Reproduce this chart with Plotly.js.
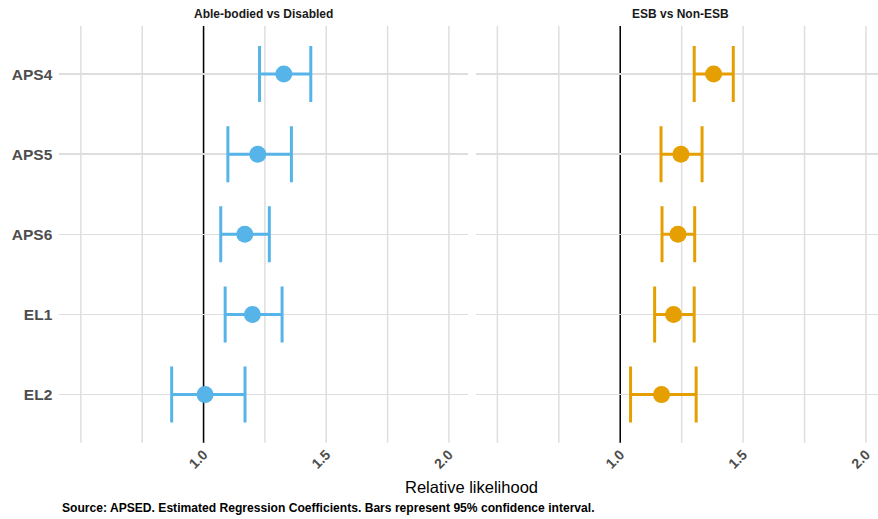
<!DOCTYPE html>
<html>
<head>
<meta charset="utf-8">
<script src="https://cdn.plot.ly/plotly-3.0.1.min.js"></script>
<style>
  html, body { margin: 0; padding: 0; background: #fff; }
  #chart { width: 878px; height: 519px; }
</style>
</head>
<body>
<div id="chart"></div>
<script>
// Forest plot, two facets: relative likelihood with 95% CI.
const categories = ['APS4', 'APS5', 'APS6', 'EL1', 'EL2'];

const disabledEst = [1.327, 1.221, 1.168, 1.199, 1.006];
const disabledLow = [1.228, 1.099, 1.070, 1.088, 0.870];
const disabledHigh = [1.437, 1.358, 1.268, 1.320, 1.169];

const esbEst = [1.380, 1.247, 1.235, 1.217, 1.168];
const esbLow = [1.301, 1.166, 1.170, 1.140, 1.042];
const esbHigh = [1.460, 1.333, 1.303, 1.301, 1.309];

const facetTitles = ['Able-bodied vs Disabled', 'ESB vs Non-ESB'];
const tickVals = [0.5, 0.75, 1.0, 1.25, 1.5, 1.75, 2.0];
const tickText = ['', '', '1.0', '', '1.5', '', '2.0'];
const refValue = 1.0;

const BLUE = '#56B4E9';
const ORANGE = '#E69F00';
const GRID = '#dedede';
const FONT = 'Liberation Sans, Arial, sans-serif';
const W = 878, H = 519;

function ciTrace(est, lo, hi, color, xa, ya) {
  return {
    type: 'scatter',
    mode: 'markers',
    x: est,
    y: categories,
    xaxis: xa,
    yaxis: ya,
    marker: { color: color, size: 17, line: { width: 0 } },
    error_x: {
      type: 'data',
      symmetric: false,
      array: hi.map((h, i) => h - est[i]),
      arrayminus: lo.map((l, i) => est[i] - l),
      color: color,
      thickness: 3,
      width: 28
    },
    hoverinfo: 'x+y',
    showlegend: false
  };
}

function xAxis(domain, range) {
  return {
    domain: domain,
    range: range,
    tickvals: tickVals,
    ticktext: tickText,
    tickangle: -45,
    ticks: '',
    showgrid: false, // vertical grid drawn as shapes so the reference line sits on top
    zeroline: false,
    showline: false,
    tickfont: { family: FONT, size: 14, color: '#4d4d4d', weight: 'bold' },
    fixedrange: true
  };
}

function yAxis(domain, showLabels, anchor) {
  return {
    domain: domain,
    anchor: anchor,
    type: 'category',
    categoryorder: 'array',
    categoryarray: categories.slice().reverse(),
    range: [-0.6, 4.6],
    showgrid: true,
    gridcolor: GRID,
    gridwidth: 1.5,
    zeroline: false,
    showline: false,
    ticks: '',
    showticklabels: showLabels,
    ticklabelstandoff: 6,
    tickfont: { family: FONT, size: 15.5, color: '#4d4d4d', weight: 'bold' },
    fixedrange: true
  };
}

function panelShapes(xa, ya) {
  const grid = tickVals.map(v => ({
    type: 'line', xref: xa, yref: ya + ' domain', x0: v, x1: v, y0: 0, y1: 1,
    line: { color: GRID, width: 1.5 }, layer: 'below'
  }));
  grid.push({
    type: 'line', xref: xa, yref: ya + ' domain', x0: refValue, x1: refValue, y0: 0, y1: 1,
    line: { color: '#000', width: 1.5 }, layer: 'below'
  });
  return grid;
}

const leftDom = [59.3 / W, 468.3 / W];
const rightDom = [476 / W, 1];
const yDom = [1 - 442.7 / H, 1 - 26 / H];

const traces = [
  ciTrace(disabledEst, disabledLow, disabledHigh, BLUE, 'x', 'y'),
  ciTrace(esbEst, esbLow, esbHigh, ORANGE, 'x2', 'y2')
];

const layout = {
  width: W,
  height: H,
  margin: { l: 0, r: 0, t: 0, b: 0 },
  paper_bgcolor: '#fff',
  plot_bgcolor: '#fff',
  font: { family: FONT },
  showlegend: false,
  xaxis: xAxis(leftDom, [0.412, 2.079]),
  xaxis2: Object.assign(xAxis(rightDom, [0.413, 2.049]), { anchor: 'y2' }),
  yaxis: yAxis(yDom, true, 'x'),
  yaxis2: yAxis(yDom, false, 'x2'),
  shapes: panelShapes('x', 'y').concat(panelShapes('x2', 'y2')),
  annotations: [
    { text: facetTitles[0], xref: 'paper', yref: 'paper', x: 263.8 / W, y: 1 - 14 / H,
      xanchor: 'center', yanchor: 'middle', showarrow: false,
      font: { family: FONT, size: 12, color: '#1a1a1a', weight: 'bold' } },
    { text: facetTitles[1], xref: 'paper', yref: 'paper', x: 680 / W, y: 1 - 14 / H,
      xanchor: 'center', yanchor: 'middle', showarrow: false,
      font: { family: FONT, size: 12, color: '#1a1a1a', weight: 'bold' } },
    { text: 'Relative likelihood', xref: 'paper', yref: 'paper', x: 471.5 / W, y: 1 - 486.5 / H,
      xanchor: 'center', yanchor: 'middle', showarrow: false,
      font: { family: FONT, size: 16.5, color: '#000' } },
    { text: 'Source: APSED. Estimated Regression Coefficients. Bars represent 95% confidence interval.',
      xref: 'paper', yref: 'paper', x: 60 / W, y: 1 - 508 / H,
      xanchor: 'left', yanchor: 'middle', showarrow: false,
      font: { family: FONT, size: 12.1, color: '#000', weight: 'bold' } }
  ]
};

Plotly.newPlot('chart', traces, layout, { displayModeBar: false, staticPlot: true });
</script>
</body>
</html>
